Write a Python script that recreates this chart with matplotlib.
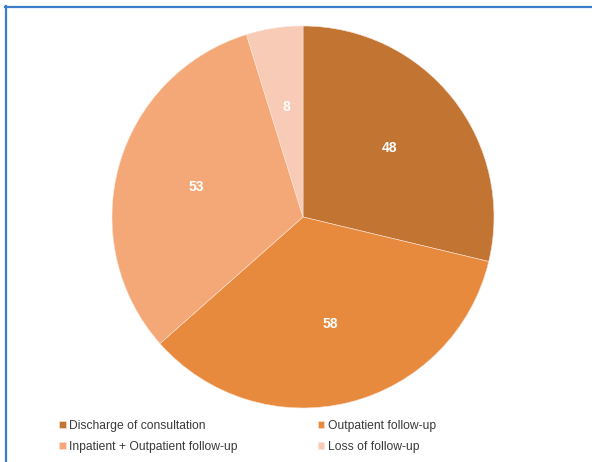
import matplotlib
matplotlib.use("Agg")
import matplotlib.pyplot as plt
from matplotlib.lines import Line2D

plt.rcParams["font.family"] = ["Liberation Sans", "DejaVu Sans"]

# ─── DATA ─────────────────────────────────────────────────────────────────────
categories = [
    "Discharge of consultation",
    "Outpatient follow-up",
    "Inpatient + Outpatient follow-up",
    "Loss of follow-up",
]
counts = [48, 58, 53, 8]
colors = ["#C27433", "#E88A3E", "#F4A877", "#F7CBB5"]

# ─── FIGURE ───────────────────────────────────────────────────────────────────
W, H = 592, 462
fig = plt.figure(figsize=(W / 100, H / 100), dpi=100)
fig.patch.set_facecolor("white")

cx, cy, r = 303, 217, 191
ax = fig.add_axes([(cx - r) / W, (H - cy - r) / H, 2 * r / W, 2 * r / H])

wedges, texts = ax.pie(
    counts, labels=[str(c) for c in counts], colors=colors,
    startangle=90, counterclock=False, labeldistance=0.58,
    wedgeprops=dict(linewidth=0.4, edgecolor="#FBE3D6"),
    textprops=dict(color="white", fontsize=10, weight="bold"),
)
for t in texts:
    t.set_horizontalalignment("center")
    t.set_verticalalignment("center")
ax.set_aspect("equal")
ax.set_xlim(-1, 1)
ax.set_ylim(-1, 1)

# legend, two columns filled row by row
order = [0, 2, 1, 3]
fig.legend(
    [wedges[i] for i in order], [categories[i] for i in order],
    ncol=2, loc="upper left",
    bbox_to_anchor=(59 / W, 1 - 420 / H), frameon=False,
    fontsize=8.7, handlelength=0.55, handleheight=0.55, handletextpad=0.3,
    columnspacing=6.6, labelspacing=0.75, borderaxespad=0, borderpad=0,
    labelcolor="#3A3A3A",
)

# blue frame on top and left edges
fig.add_artist(Line2D([5 / W, 1], [1 - 6.5 / H, 1 - 6.5 / H], color="#3B7DC9", lw=1.6,
                      transform=fig.transFigure))
fig.add_artist(Line2D([5.5 / W, 5.5 / W], [0, 1 - 6 / H], color="#3B7DC9", lw=1.6,
                      transform=fig.transFigure))

fig.savefig("out.png", dpi=100)
